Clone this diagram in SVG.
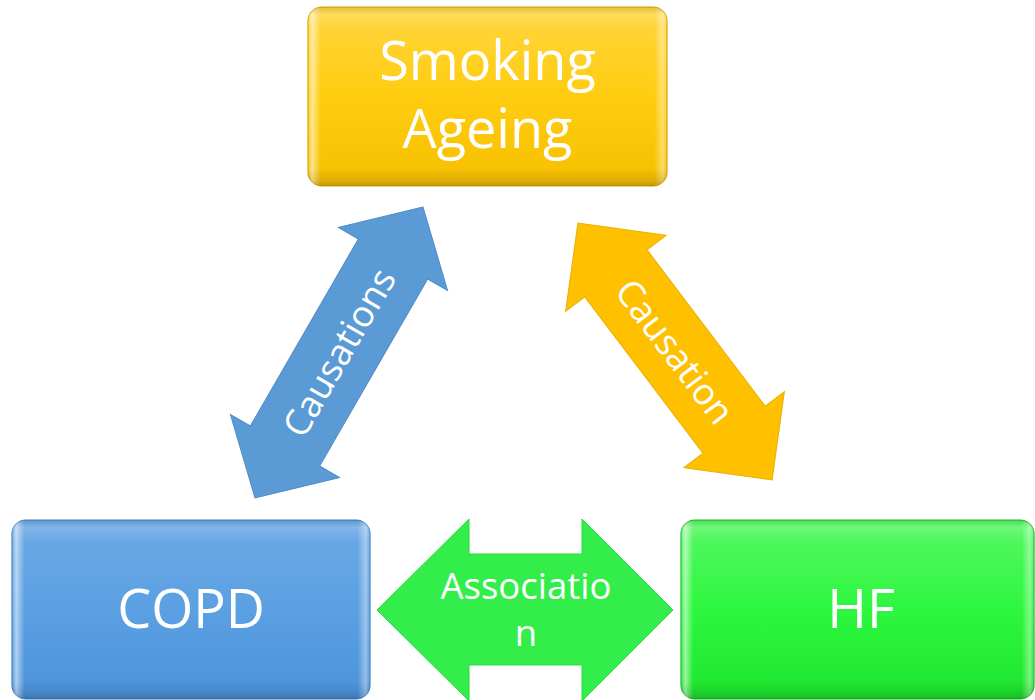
<svg xmlns="http://www.w3.org/2000/svg" width="1035" height="700" viewBox="0 0 1035 700">
  <style>
    .big { font-family: "Open Sans", "Noto Sans", "Liberation Sans", sans-serif; font-size: 54px; fill: #ffffff; text-anchor: middle; }
    .lbl { font-family: "Open Sans", "Noto Sans", "Liberation Sans", sans-serif; font-size: 36.5px; fill: #ffffff; text-anchor: middle; }
    .bevel { fill: url(#bevelH); }
    .shade { fill: url(#bevelV); }
  </style>
  <defs>
    <linearGradient id="gYellow" x1="0" y1="0" x2="0" y2="1">
      <stop offset="0" stop-color="#FFD640"/>
      <stop offset="0.5" stop-color="#FFCC10"/>
      <stop offset="1" stop-color="#F7C000"/>
    </linearGradient>
    <linearGradient id="gBlue" x1="0" y1="0" x2="0" y2="1">
      <stop offset="0" stop-color="#6DAAE6"/>
      <stop offset="0.5" stop-color="#5BA0E2"/>
      <stop offset="1" stop-color="#4B92DA"/>
    </linearGradient>
    <linearGradient id="gGreen" x1="0" y1="0" x2="0" y2="1">
      <stop offset="0" stop-color="#58F766"/>
      <stop offset="0.5" stop-color="#2DF73E"/>
      <stop offset="1" stop-color="#1EE42E"/>
    </linearGradient>
    <linearGradient id="bevelH" x1="0" y1="0" x2="1" y2="0">
      <stop offset="0" stop-color="#ffffff" stop-opacity="0.05"/>
      <stop offset="0.012" stop-color="#ffffff" stop-opacity="0.55"/>
      <stop offset="0.035" stop-color="#ffffff" stop-opacity="0.0"/>
      <stop offset="0.965" stop-color="#ffffff" stop-opacity="0.0"/>
      <stop offset="0.988" stop-color="#ffffff" stop-opacity="0.4"/>
      <stop offset="1" stop-color="#ffffff" stop-opacity="0.05"/>
    </linearGradient>
    <linearGradient id="bevelV" x1="0" y1="0" x2="0" y2="1">
      <stop offset="0" stop-color="#000000" stop-opacity="0.1"/>
      <stop offset="0.04" stop-color="#ffffff" stop-opacity="0.15"/>
      <stop offset="0.12" stop-color="#ffffff" stop-opacity="0"/>
      <stop offset="0.9" stop-color="#000000" stop-opacity="0"/>
      <stop offset="0.97" stop-color="#000000" stop-opacity="0.1"/>
      <stop offset="1" stop-color="#000000" stop-opacity="0.2"/>
    </linearGradient>
  </defs>

  <g id="connectors">
    <g id="arrow-copd-smoking">
      <path transform="translate(339,352.5) rotate(-60)" d="M168,0 L108,-63 L108,-40 L-108,-40 L-108,-63 L-168,0 L-108,63 L-108,40 L108,40 L108,63 Z" fill="#5B9BD5" stroke="#4F8CC6" stroke-width="1"/>
      <text class="lbl" transform="translate(339,352.5) rotate(-60)" x="0" y="13">Causations</text>
    </g>
    <g id="arrow-smoking-hf">
      <path transform="translate(675,351.5) rotate(52.9)" d="M161,0 L98,-63 L98,-39 L-98,-39 L-98,-63 L-161,0 L-98,63 L-98,39 L98,39 L98,63 Z" fill="#FFC000" stroke="#E8B000" stroke-width="1"/>
      <text class="lbl" transform="translate(675,351.5) rotate(52.9)" x="0" y="13">Causation</text>
    </g>
    <g id="arrow-copd-hf">
      <path d="M377,610 L469,519 L469,554 L582,554 L582,519 L673,610 L582,701 L582,665 L469,665 L469,701 Z" fill="#33EE4A" stroke="#2CD842" stroke-width="1"/>
      <text class="lbl" x="526" y="599">Associatio</text>
      <text class="lbl" x="526" y="646">n</text>
    </g>
  </g>

  <g id="node-smoking">
    <rect x="308" y="7" width="359" height="179" rx="14" fill="url(#gYellow)" stroke="#D8A400" stroke-width="1.2"/>
    <rect x="308" y="7" width="359" height="179" rx="14" class="bevel"/>
    <rect x="308" y="7" width="359" height="179" rx="14" class="shade"/>
    <text class="big" x="487.5" y="80">Smoking</text>
    <text class="big" x="487.5" y="148">Ageing</text>
  </g>

  <g id="node-copd">
    <rect x="12" y="520" width="358" height="179" rx="14" fill="url(#gBlue)" stroke="#3F7FBF" stroke-width="1.2"/>
    <rect x="12" y="520" width="358" height="179" rx="14" class="bevel"/>
    <rect x="12" y="520" width="358" height="179" rx="14" class="shade"/>
    <text class="big" x="191" y="628">COPD</text>
  </g>

  <g id="node-hf">
    <rect x="681" y="520" width="353" height="179" rx="14" fill="url(#gGreen)" stroke="#1DB82A" stroke-width="1.2"/>
    <rect x="681" y="520" width="353" height="179" rx="14" class="bevel"/>
    <rect x="681" y="520" width="353" height="179" rx="14" class="shade"/>
    <text class="big" x="861" y="628">HF</text>
  </g>
</svg>
